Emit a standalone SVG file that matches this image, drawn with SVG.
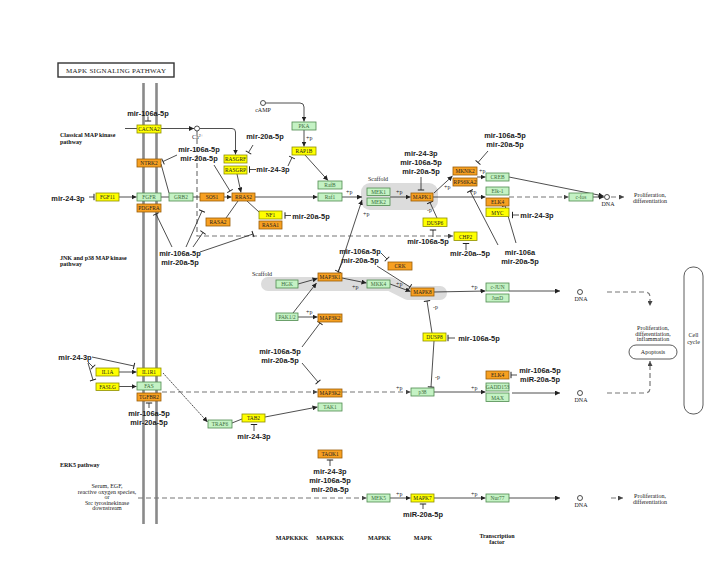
<svg xmlns="http://www.w3.org/2000/svg" width="723" height="562" viewBox="0 0 723 562">
<style>
.g{fill:#c4f2c4;stroke:#4f8a4f;stroke-width:.8}
.y{fill:#ffff00;stroke:#8f8f00;stroke-width:.8}
.o{fill:#f7a021;stroke:#9a5c08;stroke-width:.8}
.bt{font-family:"Liberation Serif",serif;font-size:5.4px;text-anchor:middle;fill:#222}
.gt{fill:#3b6b3b}
.mir{font-family:"Liberation Sans",Arial,sans-serif;font-weight:bold;font-size:7.4px;text-anchor:middle;fill:#1a1a1a}
.s{font-family:"Liberation Serif",serif;font-size:6px;fill:#222}
.c{text-anchor:middle}
.hd{font-family:"Liberation Serif",serif;font-weight:bold;font-size:6px;fill:#111}
.ln{fill:none;stroke:#222;stroke-width:.8}
.da{fill:none;stroke:#777;stroke-width:1.2;stroke-dasharray:5 3}
.ar{marker-end:url(#a)}
.dar{marker-end:url(#ag)}
.te{marker-end:url(#t)}
.dna{fill:#fff;stroke:#222;stroke-width:.8}
.mem{stroke:#8a8a8a;stroke-width:2.6}
</style>
<defs>
<marker id="a" viewBox="0 0 6 6" refX="6" refY="3" markerWidth="5" markerHeight="5" orient="auto" markerUnits="userSpaceOnUse"><path d="M0,0L6,3L0,6z" fill="#222"/></marker>
<marker id="ag" viewBox="0 0 6 6" refX="6" refY="3" markerWidth="5" markerHeight="5" orient="auto" markerUnits="userSpaceOnUse"><path d="M0,0L6,3L0,6z" fill="#444"/></marker>
<marker id="t" viewBox="-1 -4 2 8" refX="0" refY="0" markerWidth="2" markerHeight="8" orient="auto" markerUnits="userSpaceOnUse"><path d="M0,-3.2V3.2" stroke="#222" stroke-width="1"/></marker>
</defs>
<rect width="723" height="562" fill="#fff"/>

<g id="title"><rect x="58" y="63" width="116" height="14" fill="#fff" stroke="#333" stroke-width="1.4"/><text x="116" y="73" font-family="Liberation Serif,serif" font-size="7" text-anchor="middle" fill="#222" textLength="100">MAPK SIGNALING PATHWAY</text></g>

<g id="membrane"><line class="mem" x1="143.5" y1="83" x2="143.5" y2="524"/><line class="mem" x1="156.5" y1="83" x2="156.5" y2="524"/></g>

<g id="scaffolds">
<rect x="361" y="183" width="77" height="27" rx="9" fill="#dcdcdc"/>
<polyline points="268,284 390,284 408,293 440,293" fill="none" stroke="#dcdcdc" stroke-width="14" stroke-linecap="round" stroke-linejoin="round"/>
<text class="s c" x="378" y="181">Scaffold</text>
<text class="s c" x="262" y="276">Scaffold</text>
</g>

<g id="section-labels">
<text class="hd" x="60" y="137">Classical MAP kinase</text><text class="hd" x="60" y="143.5">pathway</text>
<text class="hd" x="60" y="259.5">JNK and p38 MAP kinase</text><text class="hd" x="60" y="265.5">pathway</text>
<text class="hd" x="60" y="467">ERK5 pathway</text>
<g class="s c"><text x="107" y="488">Serum, EGF,</text><text x="107" y="493.5">reactive oxygen species,</text><text x="107" y="499">or</text><text x="107" y="504.5">Src tyrosinekinase</text><text x="107" y="510">downstream</text></g>
<g class="hd c"><text x="292" y="540">MAPKKKK</text><text x="330" y="540">MAPKKK</text><text x="379.5" y="540">MAPKK</text><text x="423" y="540">MAPK</text><text x="497" y="538">Transcription</text><text x="497" y="543.5">factor</text></g>
</g>

<g id="connectors">
<line class="ln ar" x1="125" y1="128.5" x2="194" y2="128.5"/>
<path class="ln ar" d="M199.5,128.5H232Q235.5,128.5 235.5,132V154.5"/>
<path class="da dar" d="M197,131V236H453"/>
<line class="ln ar" x1="119" y1="197" x2="136.5" y2="197"/>
<line class="ln" x1="161" y1="197" x2="169" y2="197"/>
<line class="ln" x1="193" y1="197" x2="200" y2="197"/>
<line class="ln ar" x1="224" y1="197" x2="231.5" y2="197"/>
<line class="ln" x1="161" y1="164" x2="169" y2="193"/>
<line class="ln ar" x1="237" y1="174" x2="241" y2="192.5"/>
<line class="ln" x1="238" y1="201" x2="226" y2="218"/>
<line class="ln" x1="247" y1="201" x2="259" y2="212"/>
<line class="ln ar" x1="255" y1="197" x2="317.5" y2="197"/>
<path class="ln ar" d="M265.5,103H300Q304,103 304,107V121.5"/>
<line class="ln ar" x1="304" y1="130" x2="304" y2="146.5"/>
<line class="ln ar" x1="305" y1="155" x2="328" y2="180.5"/>
<line class="ln ar" x1="342" y1="197" x2="362" y2="197"/>
<line class="ln ar" x1="338" y1="273" x2="362" y2="200"/>
<line class="ln ar" x1="390" y1="197" x2="410.5" y2="197"/>
<line class="ln ar" x1="434" y1="193" x2="452.5" y2="176"/>
<line class="ln ar" x1="477" y1="177" x2="485.5" y2="177"/>
<line class="ln ar" x1="509" y1="177" x2="603.5" y2="196"/>
<line class="ln ar" x1="433" y1="197" x2="485.5" y2="197"/>
<line class="da dar" x1="509" y1="197" x2="568.5" y2="197"/>
<line class="ln ar" x1="593" y1="197" x2="604" y2="197"/>
<line class="da dar" x1="611" y1="197" x2="624" y2="197"/>
<line class="ln te" x1="437" y1="218" x2="430" y2="202.5"/>
<line class="ln ar" x1="298" y1="284" x2="317.5" y2="278.5"/>
<line class="ln ar" x1="293" y1="313" x2="316.5" y2="283"/>
<line class="ln ar" x1="298" y1="317" x2="317.5" y2="317"/>
<line class="ln ar" x1="342" y1="278" x2="366.5" y2="283"/>
<line class="ln ar" x1="390" y1="284" x2="410.5" y2="291.5"/>
<line class="ln ar" x1="434" y1="292" x2="485.5" y2="291"/>
<line class="ln ar" x1="509" y1="291" x2="560" y2="291"/>
<path class="da dar" d="M607,292H645Q650,292 650,297V306"/>
<line class="ln te" x1="432" y1="333" x2="427" y2="301"/>
<line class="ln te" x1="434" y1="341" x2="431" y2="387"/>
<line class="da dar" x1="162" y1="392" x2="317.5" y2="392"/>
<line class="da dar" x1="342" y1="392" x2="410.5" y2="392"/>
<line class="ln ar" x1="434" y1="392" x2="485.5" y2="392"/>
<line class="ln ar" x1="512" y1="393" x2="560" y2="393"/>
<path class="da dar" d="M607,393H645Q650,393 650,388V361"/>
<line class="ln ar" x1="119" y1="372" x2="136.5" y2="372"/>
<line class="ln ar" x1="119" y1="386.5" x2="136.5" y2="386.5"/>
<line class="ln ar" x1="163" y1="373" x2="207.5" y2="422" stroke-dasharray="1.6 0.8" stroke-width=".7"/>
<line class="ln" x1="232" y1="423" x2="242" y2="419"/>
<line class="ln ar" x1="265" y1="417" x2="317.5" y2="407"/>
<line class="da dar" x1="138" y1="498" x2="366.5" y2="498"/>
<line class="ln ar" x1="390" y1="498" x2="410.5" y2="498"/>
<line class="ln ar" x1="434" y1="498" x2="485.5" y2="498"/>
<line class="ln ar" x1="509" y1="498" x2="560" y2="498"/>
<line class="da dar" x1="611" y1="498" x2="623" y2="498"/>
<!-- miRNA inhibitions -->
<line class="ln te" x1="148" y1="116.5" x2="148" y2="121"/>
<line class="ln te" x1="177" y1="155" x2="163" y2="161.5"/>
<line class="ln te" x1="214" y1="165" x2="230" y2="191"/>
<line class="ln te" x1="89" y1="197" x2="94" y2="197"/>
<line class="ln te" x1="253" y1="145" x2="248.5" y2="152.5"/>
<line class="ln te" x1="256" y1="169.5" x2="249.5" y2="169.5"/>
<line class="ln te" x1="288" y1="166" x2="292" y2="157.5"/>
<line class="ln te" x1="291" y1="215.5" x2="285" y2="215.5"/>
<line class="ln te" x1="421" y1="177" x2="421" y2="190"/>
<line class="ln te" x1="488" y1="151" x2="478" y2="162.5"/>
<line class="ln te" x1="519" y1="215" x2="512.5" y2="215"/>
<line class="ln te" x1="433" y1="237" x2="433" y2="230"/>
<line class="ln te" x1="466" y1="250" x2="466" y2="243.5"/>
<line class="ln te" x1="498" y1="245" x2="470" y2="191"/>
<line class="ln te" x1="516" y1="243" x2="505" y2="205.5"/>
<line class="ln te" x1="172" y1="247" x2="156" y2="214"/>
<line class="ln te" x1="186" y1="247" x2="202" y2="211"/>
<line class="ln te" x1="193" y1="247" x2="203" y2="232.5"/>
<line class="ln te" x1="200" y1="252" x2="253" y2="234"/>
<line class="ln te" x1="342" y1="263" x2="338" y2="271.5"/>
<line class="ln te" x1="381" y1="253" x2="387" y2="259"/>
<line class="ln te" x1="377" y1="266" x2="410" y2="287"/>
<line class="ln te" x1="302" y1="347" x2="320" y2="323"/>
<line class="ln te" x1="302" y1="363" x2="318" y2="382"/>
<line class="ln te" x1="455" y1="338" x2="448" y2="338"/>
<line class="ln te" x1="92" y1="357" x2="134" y2="366"/>
<line class="ln te" x1="88" y1="362" x2="93" y2="367"/>
<line class="ln te" x1="88" y1="363" x2="93" y2="380"/>
<line class="ln te" x1="517" y1="375" x2="511" y2="375"/>
<line class="ln te" x1="149" y1="408" x2="149" y2="403"/>
<line class="ln te" x1="254" y1="431" x2="254" y2="424.5"/>
<line class="ln te" x1="330" y1="466" x2="330" y2="460"/>
<line class="ln te" x1="423" y1="509" x2="423" y2="504"/>
</g>

<g id="plabels" class="s">
<text x="306" y="140">+p</text><text x="346" y="194">+p</text><text x="363" y="216">+p</text><text x="396" y="194">+p</text>
<text x="444" y="189">+p</text><text x="479" y="173">+p</text><text x="470" y="194">+p</text><text x="427" y="212">-p</text>
<text x="352" y="289">+p</text><text x="306" y="314">+p</text><text x="396" y="286">+p</text><text x="471" y="289">+p</text>
<text x="433" y="309">-p</text><text x="435" y="379">-p</text><text x="396" y="390">+p</text><text x="471" y="390">+p</text>
<text x="396" y="496">+p</text><text x="471" y="496">+p</text>
</g>

<g id="small-molecules">
<circle class="dna" cx="197" cy="128.5" r="2.5"/><text class="s" x="192" y="139">Ca<tspan dy="-2" font-size="4">2+</tspan></text>
<circle class="dna" cx="263" cy="103" r="2.5"/><text class="s c" x="263" y="112">cAMP</text>
</g>

<g id="dna">
<circle class="dna" cx="607" cy="197" r="2.5"/><text class="s c" x="608" y="206">DNA</text>
<circle class="dna" cx="580" cy="292" r="2.5"/><text class="s c" x="581" y="301">DNA</text>
<circle class="dna" cx="580" cy="393" r="2.5"/><text class="s c" x="581" y="402">DNA</text>
<circle class="dna" cx="580" cy="498" r="2.5"/><text class="s c" x="581" y="507">DNA</text>
<g class="s c"><text x="650" y="197">Proliferation,</text><text x="650" y="202.5">differentiation</text>
<text x="653" y="330">Proliferation,</text><text x="653" y="335.5">differentiation,</text><text x="653" y="341">inflammation</text>
<text x="650" y="498">Proliferation,</text><text x="650" y="503.5">differentiation</text></g>
</g>

<g id="Apoptosis"><rect x="629" y="345" width="48" height="14" rx="7" fill="#fff" stroke="#333" stroke-width=".8"/><text class="s c" x="653" y="354">Apoptosis</text></g>
<g id="CellCycle"><rect x="684" y="267" width="19" height="147" rx="9" fill="#fff" stroke="#333" stroke-width=".8"/><text class="s c" x="693.5" y="337">Cell</text><text class="s c" x="693.5" y="343.5">cycle</text></g>

<g id="CACNA2"><rect class="y" x="137" y="125" width="24" height="8"/><text class="bt" x="149" y="131">CACNA2</text></g>
<g id="NTRK2"><rect class="o" x="137" y="159" width="24" height="8"/><text class="bt" x="149" y="165">NTRK2</text></g>
<g id="FGFR"><rect class="g" x="137" y="193" width="24" height="8"/><text class="bt gt" x="149" y="199">FGFR</text></g>
<g id="PDGFRA"><rect class="o" x="137" y="204" width="24" height="8"/><text class="bt" x="149" y="210">PDGFRA</text></g>
<g id="FGF11"><rect class="y" x="96" y="193" width="23" height="8"/><text class="bt" x="107.5" y="199">FGF11</text></g>
<g id="GRB2"><rect class="g" x="169" y="193" width="24" height="8"/><text class="bt gt" x="181" y="199">GRB2</text></g>
<g id="SOS1"><rect class="o" x="200" y="193" width="24" height="8"/><text class="bt" x="212" y="199">SOS1</text></g>
<g id="RRAS2"><rect class="o" x="232" y="193" width="23" height="8"/><text class="bt" x="243.5" y="199">RRAS2</text></g>
<g id="RASGRF"><rect class="y" x="224" y="155" width="23" height="8"/><text class="bt" x="235.5" y="161">RASGRF</text></g>
<g id="RASGRP"><rect class="y" x="224" y="166" width="23" height="8"/><text class="bt" x="235.5" y="172">RASGRP</text></g>
<g id="RASA2"><rect class="o" x="206" y="218" width="24" height="8"/><text class="bt" x="218" y="224">RASA2</text></g>
<g id="NF1"><rect class="y" x="259" y="211" width="23" height="8"/><text class="bt" x="270.5" y="217">NF1</text></g>
<g id="RASA1"><rect class="o" x="259" y="221" width="23" height="8"/><text class="bt" x="270.5" y="227">RASA1</text></g>
<g id="PKA"><rect class="g" x="292" y="122" width="24" height="8"/><text class="bt gt" x="304" y="128">PKA</text></g>
<g id="RAP1B"><rect class="y" x="292" y="147" width="24" height="8"/><text class="bt" x="304" y="153">RAP1B</text></g>
<g id="RafB"><rect class="g" x="318" y="181" width="24" height="8"/><text class="bt gt" x="330" y="187">RafB</text></g>
<g id="Raf1"><rect class="g" x="318" y="193" width="24" height="8"/><text class="bt gt" x="330" y="199">Raf1</text></g>
<g id="MEK1"><rect class="g" x="367" y="188" width="23" height="7.5"/><text class="bt gt" x="378.5" y="194">MEK1</text></g>
<g id="MEK2"><rect class="g" x="367" y="198" width="23" height="7.5"/><text class="bt gt" x="378.5" y="204">MEK2</text></g>
<g id="MAPK1"><rect class="o" x="411" y="193" width="22" height="8"/><text class="bt" x="422" y="199">MAPK1</text></g>
<g id="MKNK2"><rect class="o" x="453" y="167" width="24" height="8"/><text class="bt" x="465" y="173">MKNK2</text></g>
<g id="RPS6KA2"><rect class="o" x="453" y="178" width="24" height="8"/><text class="bt" x="465" y="184" font-size="4.8">RPS6KA2</text></g>
<g id="CREB"><rect class="g" x="486" y="173" width="23" height="8"/><text class="bt gt" x="497.5" y="179">CREB</text></g>
<g id="Elk-1"><rect class="g" x="486" y="187" width="23" height="8"/><text class="bt gt" x="497.5" y="193">Elk-1</text></g>
<g id="ELK4"><rect class="o" x="486" y="198" width="23" height="8"/><text class="bt" x="497.5" y="204">ELK4</text></g>
<g id="MYC"><rect class="y" x="486" y="208" width="23" height="8.5"/><text class="bt" x="497.5" y="214.5">MYC</text></g>
<g id="c-fos"><rect class="g" x="569" y="193" width="24" height="8"/><text class="bt gt" x="581" y="199">c-fos</text></g>
<g id="DUSP6"><rect class="y" x="423" y="218" width="24" height="8.5"/><text class="bt" x="435" y="224.5">DUSP6</text></g>
<g id="CHP2"><rect class="y" x="454" y="232" width="23" height="8.5"/><text class="bt" x="465.5" y="238.5">CHP2</text></g>
<g id="CRK"><rect class="o" x="388" y="262" width="24" height="8"/><text class="bt" x="400" y="268">CRK</text></g>
<g id="HGK"><rect class="g" x="276" y="280" width="22" height="8"/><text class="bt gt" x="287" y="286">HGK</text></g>
<g id="MAP3K1"><rect class="o" x="318" y="273" width="24" height="8"/><text class="bt" x="330" y="279">MAP3K1</text></g>
<g id="MKK4"><rect class="g" x="367" y="280" width="23" height="8"/><text class="bt gt" x="378.5" y="286">MKK4</text></g>
<g id="MAPK8"><rect class="o" x="411" y="288" width="23" height="8"/><text class="bt" x="422.5" y="294">MAPK8</text></g>
<g id="c-JUN"><rect class="g" x="486" y="283" width="23" height="8"/><text class="bt gt" x="497.5" y="289">c-JUN</text></g>
<g id="JunD"><rect class="g" x="486" y="294" width="23" height="8"/><text class="bt gt" x="497.5" y="300">JunD</text></g>
<g id="PAK1-2"><rect class="g" x="276" y="313" width="22" height="7.5"/><text class="bt gt" x="287" y="319">PAK1/2</text></g>
<g id="MAP3K2"><rect class="o" x="318" y="314" width="24" height="8"/><text class="bt" x="330" y="320">MAP3K2</text></g>
<g id="DUSP8"><rect class="y" x="423" y="333" width="23" height="8"/><text class="bt" x="434.5" y="339">DUSP8</text></g>
<g id="p38"><rect class="g" x="411" y="388" width="23" height="8"/><text class="bt gt" x="422.5" y="394">p38</text></g>
<g id="MAP3K2b"><rect class="o" x="318" y="389" width="24" height="8"/><text class="bt" x="330" y="395">MAP3K2</text></g>
<g id="TAK1"><rect class="g" x="318" y="403" width="24" height="8"/><text class="bt gt" x="330" y="409">TAK1</text></g>
<g id="ELK4b"><rect class="o" x="486" y="371" width="23" height="8"/><text class="bt" x="497.5" y="377">ELK4</text></g>
<g id="GADD153"><rect class="g" x="486" y="383" width="23" height="8"/><text class="bt gt" x="497.5" y="389" font-size="4.8">GADD153</text></g>
<g id="MAX"><rect class="g" x="486" y="393" width="23" height="8.5"/><text class="bt gt" x="497.5" y="399.5">MAX</text></g>
<g id="IL1A"><rect class="y" x="96" y="368" width="23" height="8"/><text class="bt" x="107.5" y="374">IL1A</text></g>
<g id="FASLG"><rect class="y" x="96" y="383" width="23" height="7.5"/><text class="bt" x="107.5" y="389">FASLG</text></g>
<g id="IL1R1"><rect class="y" x="137" y="368" width="24" height="8"/><text class="bt" x="149" y="374">IL1R1</text></g>
<g id="FAS"><rect class="g" x="137" y="382" width="24" height="8"/><text class="bt gt" x="149" y="388">FAS</text></g>
<g id="TGFBR2"><rect class="o" x="137" y="393" width="24" height="8"/><text class="bt" x="149" y="399">TGFBR2</text></g>
<g id="TRAF6"><rect class="g" x="208" y="420" width="24" height="8"/><text class="bt gt" x="220" y="426">TRAF6</text></g>
<g id="TAB2"><rect class="y" x="242" y="414" width="23" height="8"/><text class="bt" x="253.5" y="420">TAB2</text></g>
<g id="TAOK1"><rect class="o" x="318" y="450" width="24" height="8"/><text class="bt" x="330" y="456">TAOK1</text></g>
<g id="MEK5"><rect class="g" x="367" y="494" width="23" height="8"/><text class="bt gt" x="378.5" y="500">MEK5</text></g>
<g id="MAPK7"><rect class="y" x="411" y="494" width="23" height="8"/><text class="bt" x="422.5" y="500">MAPK7</text></g>
<g id="Nur77"><rect class="g" x="486" y="494" width="23" height="8"/><text class="bt gt" x="497.5" y="500">Nur77</text></g>

<g id="mirnas" class="mir">
<text x="148" y="115.5">mir-106a-5p</text>
<text x="199" y="152">mir-106a-5p</text><text x="199" y="161">mir-20a-5p</text>
<text x="68" y="200.5">mir-24-3p</text>
<text x="265" y="139">mir-20a-5p</text>
<text x="273" y="172">mir-24-3p</text>
<text x="311" y="219">mir-20a-5p</text>
<text x="421" y="156">mir-24-3p</text><text x="421" y="165">mir-106a-5p</text><text x="421" y="174">mir-20a-5p</text>
<text x="505" y="138">mir-106a-5p</text><text x="505" y="147">mir-20a-5p</text>
<text x="537" y="218">mir-24-3p</text>
<text x="428" y="244">mir-106a-5p</text>
<text x="470" y="256">mir-20a--5p</text>
<text x="520" y="254.5">mir-106a</text><text x="520" y="263.5">mir-20a-5p</text>
<text x="180" y="256">mir-106a-5p</text><text x="180" y="265">mir-20a-5p</text>
<text x="360" y="254">mir-106a-5p</text><text x="360" y="263">mir-20a-5p</text>
<text x="280" y="354">mir-106a-5p</text><text x="280" y="363">mir-20a-5p</text>
<text x="479" y="341">mir-106a-5p</text>
<text x="75" y="360">mir-24-3p</text>
<text x="540" y="373">mir-106a-5p</text><text x="540" y="382">miR-20a-5p</text>
<text x="149" y="416">mir-106a-5p</text><text x="149" y="425">mir-20a-5p</text>
<text x="254" y="439">mir-24-3p</text>
<text x="330" y="474">mir-24-3p</text><text x="330" y="483">mir-106a-5p</text><text x="330" y="492">mir-20a-5p</text>
<text x="423" y="517">miR-20a-5p</text>
</g>
</svg>
